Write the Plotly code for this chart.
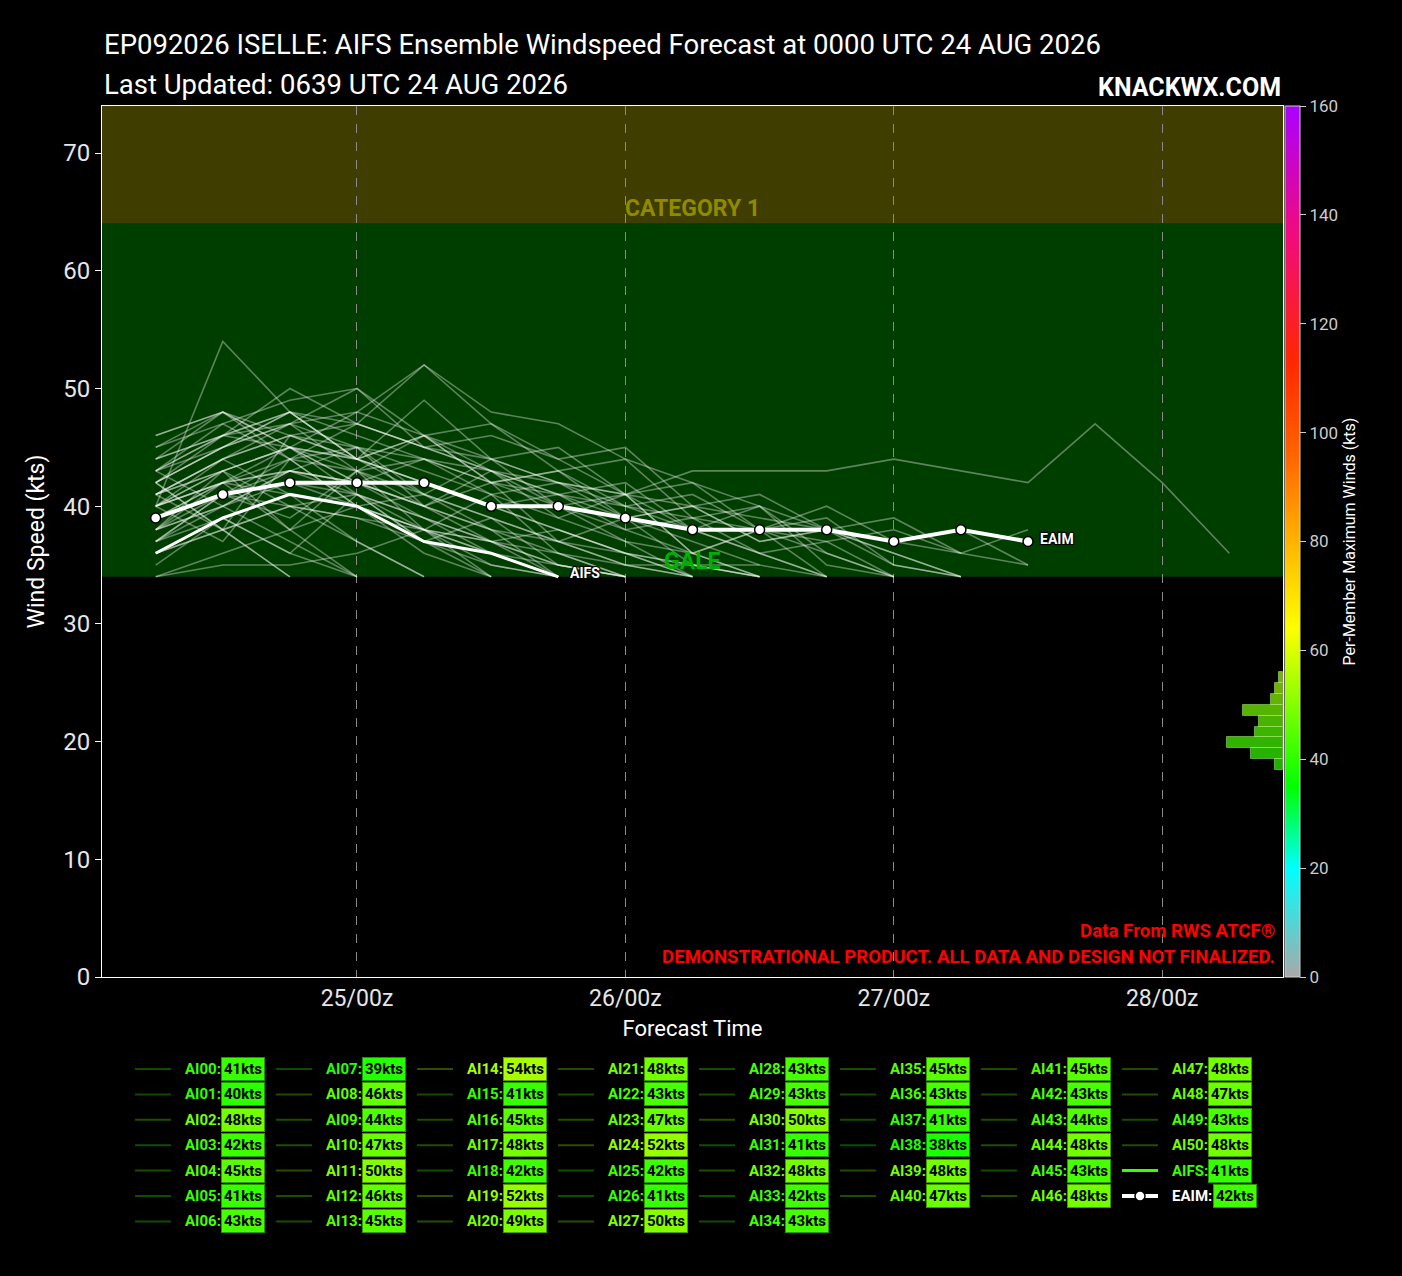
import numpy as np
import pandas as pd
import plotly.graph_objects as go

FONT = "Roboto, sans-serif"

# forecast times, 6 hourly from 24/06z
times = pd.date_range("2026-08-24 06:00", periods=17, freq="6h")

member_names = ["AI%02d" % i for i in range(51)]
member_winds = [
    [38, 41, 40, 39, 37, 36, 35, 34],
    [36, 38, 40, 39, 38, 37, 38, 36, 35, 34],
    [42, 45, 48, 46, 44, 42, 40, 38, 36, 34],
    [40, 42, 41, 40, 38, 36, 34],
    [41, 43, 45, 42, 44, 41, 42, 39, 40, 37, 38, 36, 34],
    [37, 39, 41, 40, 38, 35, 34],
    [39, 42, 38, 43, 40, 42, 37, 39, 35, 34],
    [36, 39, 36, 34],
    [44, 46, 45, 43, 44, 42, 41, 40, 39, 38, 37, 38, 36, 35],
    [40, 42, 44, 43, 41, 39, 37, 36, 34],
    [43, 45, 47, 45, 44, 43, 42, 41, 43, 43, 43, 44, 43, 42, 47, 42, 36],
    [42, 46, 50, 47, 45, 43, 41, 39, 37, 35, 34],
    [41, 44, 46, 45, 43, 41, 39, 37, 36, 34],
    [39, 42, 43, 45, 41, 44, 40, 41, 36, 38, 36, 34],
    [40, 54, 48, 44, 41, 38, 36, 34],
    [36, 38, 40, 41, 39, 37, 35, 34],
    [40, 43, 45, 44, 42, 40, 41, 38, 39, 36, 37, 34],
    [44, 46, 47, 48, 46, 44, 42, 40, 38, 36, 34],
    [38, 40, 42, 41, 39, 37, 35, 34],
    [38, 42, 45, 48, 52, 48, 47, 44, 42, 40, 38, 36, 34],
    [42, 38, 46, 44, 49, 44, 45, 41, 42, 38, 39, 35, 34],
    [43, 46, 48, 47, 45, 43, 40, 37, 34],
    [37, 41, 39, 43, 38, 41, 36, 34],
    [41, 44, 46, 47, 45, 44, 42, 41, 40, 39, 38, 37, 36, 38],
    [37, 41, 44, 47, 52, 47, 44, 41, 38, 36, 34],
    [39, 41, 42, 40, 38, 36, 34],
    [35, 39, 36, 41, 37, 39, 35, 34],
    [41, 44, 47, 50, 46, 47, 43, 44, 39, 40, 35, 34],
    [38, 40, 43, 42, 40, 38, 34],
    [40, 42, 43, 42, 40, 38, 37, 35, 34],
    [43, 47, 49, 50, 45, 46, 44, 45, 40, 41, 38, 39, 36],
    [41, 38, 34],
    [42, 45, 48, 44, 46, 43, 41, 42, 38, 40, 36, 34],
    [42, 38, 34],
    [37, 40, 43, 42, 40, 37, 34],
    [40, 37, 44, 45, 40, 43, 39, 41, 36, 38, 34],
    [39, 41, 43, 41, 38, 34],
    [34, 36, 38, 40, 41, 39, 37, 35, 34],
    [34, 35, 35, 36, 38, 37, 36, 35, 35, 35],
    [43, 46, 48, 44, 46, 42, 43, 39, 40, 37, 38, 35, 34],
    [42, 45, 47, 43, 46, 42, 43, 40, 41, 38, 40, 37, 38, 35],
    [41, 43, 45, 44, 42, 40, 38, 36, 34],
    [43, 40, 37, 34],
    [40, 44, 41, 37, 34],
    [45, 48, 46, 44, 42, 40, 38, 36, 35, 34],
    [38, 43, 40, 37, 34],
    [46, 48, 45, 42, 39, 36, 34],
    [44, 48, 45, 41, 37, 34],
    [45, 47, 44, 40, 36, 34],
    [40, 43, 38, 34],
    [46, 48, 44, 40, 37, 35, 34],
]
# per-member maximum winds shown in the legend
member_max = [41, 40, 48, 42, 45, 41, 43, 39, 46, 44, 47, 50, 46, 45, 54, 41, 45,
              48, 42, 52, 49, 48, 43, 47, 52, 42, 41, 50, 43, 43, 50, 41, 48, 42,
              43, 45, 43, 41, 38, 48, 47, 45, 43, 44, 48, 43, 48, 48, 47, 43, 48]

aifs_winds = [36, 39, 41, 40, 37, 36, 34]
aifs_max = 41
eaim_winds = [39, 41, 42, 42, 42, 40, 40, 39, 38, 38, 38, 37, 38, 37]
eaim_max = 42

hist_bins = np.arange(38, 58, 2)

# colour scale for per-member max winds (kts)
cs_stops = [(0, "#a9a9a9"), (20, "#00ffff"), (35, "#00ff00"), (64, "#ffff00"),
            (83, "#ffa500"), (96, "#ff6400"), (113, "#ff2800"), (137, "#f00a80"),
            (160, "#aa00ff")]


def hex2rgb(h):
    h = h.lstrip("#")
    return [int(h[i:i + 2], 16) for i in (0, 2, 4)]


def cmap(v, a=1.0):
    for (v0, c0), (v1, c1) in zip(cs_stops[:-1], cs_stops[1:]):
        if v0 <= v <= v1:
            f = (v - v0) / (v1 - v0)
            r0, g0, b0 = hex2rgb(c0)
            r1, g1, b1 = hex2rgb(c1)
            rgb = [round(r0 + f * (r1 - r0)), round(g0 + f * (g1 - g0)), round(b0 + f * (b1 - b0))]
            return "rgba(%d,%d,%d,%.2f)" % (rgb[0], rgb[1], rgb[2], a)
    return "rgba(170,0,255,%.2f)" % a


def darker(v):
    c = cmap(v)
    r, g, b = [int(x) for x in c[5:-1].split(",")[:3]]
    return "rgb(%d,%d,%d)" % (r * 0.6, g * 0.6, b * 0.6)


colorscale = [[v / 160, c] for v, c in cs_stops]

fig = go.Figure()

for name, w in zip(member_names, member_winds):
    fig.add_trace(go.Scatter(x=times[:len(w)], y=w, mode="lines", name=name,
                             line=dict(color="rgba(255,255,255,0.36)", width=1.6),
                             showlegend=False, hoverinfo="skip"))

fig.add_trace(go.Scatter(x=times[:len(aifs_winds)], y=aifs_winds, mode="lines", name="AIFS",
                         line=dict(color="white", width=3), showlegend=False))
fig.add_trace(go.Scatter(x=times[:len(eaim_winds)], y=eaim_winds, mode="lines+markers", name="EAIM",
                         line=dict(color="white", width=4),
                         marker=dict(size=10, color="white", line=dict(color="black", width=1.5)),
                         showlegend=False))

# colour bar
fig.add_trace(go.Scatter(
    x=[None], y=[None], mode="markers", showlegend=False, hoverinfo="skip",
    marker=dict(color=[0], cmin=0, cmax=160, colorscale=colorscale, showscale=True,
                colorbar=dict(thickness=15, len=1, lenmode="fraction", y=0.5, yanchor="middle",
                              x=1, xanchor="left", xpad=2, ypad=0,
                              outlinewidth=1, outlinecolor="#cccccc",
                              tickvals=list(range(0, 161, 20)), ticks="outside", ticklen=6,
                              tickcolor="#cccccc",
                              tickfont=dict(color="#cccccc", size=17, family=FONT),
                              title=dict(text="Per-Member Maximum Winds (kts)", side="right",
                                         font=dict(color="white", size=16, family=FONT))))))

# histogram of per-member max winds, on the colour bar scale
all_max = member_max + [aifs_max, eaim_max]
counts, edges = np.histogram(all_max, bins=hist_bins)
centers = (edges[:-1] + edges[1:]) / 2
fig.add_trace(go.Bar(x=counts, y=centers, width=2, orientation="h", xaxis="x2", yaxis="y2",
                     marker=dict(color=[cmap(c, 0.7) for c in centers],
                                 line=dict(color="rgba(190,255,140,0.45)", width=1)),
                     showlegend=False))

x_range = [times[0] - pd.Timedelta(hours=4.8), times[-1] + pd.Timedelta(hours=4.8)]
ticks_x = pd.date_range("2026-08-25", periods=4, freq="D")

# plot area in pixels
L, R, T, B = 102, 1283, 106, 977


def px(xp):
    return (xp - L) / (R - L)


def py(yp):
    return (B - yp) / (B - T)


shapes = [
    dict(type="rect", xref="paper", yref="y", x0=0, x1=1, y0=64, y1=74, fillcolor="#403d00",
         line=dict(width=0), layer="below"),
    dict(type="rect", xref="paper", yref="y", x0=0, x1=1, y0=34, y1=64, fillcolor="#003e00",
         line=dict(width=0), layer="below"),
]

annotations = [
    dict(text="EP092026 ISELLE: AIFS Ensemble Windspeed Forecast at 0000 UTC 24 AUG 2026",
         xref="paper", yref="paper", x=0, y=py(45), xanchor="left", yanchor="middle",
         showarrow=False, font=dict(color="white", size=27.5, family=FONT)),
    dict(text="Last Updated: 0639 UTC 24 AUG 2026",
         xref="paper", yref="paper", x=0, y=py(85), xanchor="left", yanchor="middle",
         showarrow=False, font=dict(color="white", size=27.5, family=FONT)),
    dict(text="KNACKWX.COM", xref="paper", yref="paper", x=1, y=py(87), xanchor="right",
         yanchor="middle", showarrow=False,
         font=dict(color="white", size=25, family=FONT, weight="bold")),
    dict(text="CATEGORY 1", xref="paper", yref="y", x=0.5, y=64, xanchor="center",
         yanchor="bottom", showarrow=False,
         font=dict(color="#8f8a00", size=23, family=FONT, weight="bold")),
    dict(text="GALE", xref="paper", yref="y", x=0.5, y=34, xanchor="center",
         yanchor="bottom", showarrow=False,
         font=dict(color="#00b000", size=23, family=FONT, weight="bold")),
    dict(text="Data From RWS ATCF®", xref="paper", yref="paper", x=px(1277), y=py(931),
         xanchor="right", yanchor="middle", showarrow=False,
         font=dict(color="red", size=18.7, family=FONT, weight="bold")),
    dict(text="DEMONSTRATIONAL PRODUCT. ALL DATA AND DESIGN NOT FINALIZED.", xref="paper",
         yref="paper", x=px(1277), y=py(957), xanchor="right", yanchor="middle",
         showarrow=False, font=dict(color="red", size=18.7, family=FONT, weight="bold")),
]

outline = "1px 1px 1px black, -1px -1px 1px black, 1px -1px 1px black, -1px 1px 1px black"
annotations.append(dict(text="AIFS", x=times[len(aifs_winds) - 1], y=aifs_winds[-1],
                        xanchor="left", yanchor="middle", xshift=10, yshift=4, showarrow=False,
                        font=dict(color="white", size=14, family=FONT, weight="bold",
                                  shadow=outline)))
annotations.append(dict(text="EAIM", x=times[len(eaim_winds) - 1], y=eaim_winds[-1],
                        xanchor="left", yanchor="middle", xshift=10, yshift=3, showarrow=False,
                        font=dict(color="white", size=14, family=FONT, weight="bold",
                                  shadow=outline)))

# legend, 8 columns filled top to bottom
legend_names = member_names + ["AIFS", "EAIM"]
legend_max = member_max + [aifs_max, eaim_max]
col_counts = [7, 7, 7, 7, 7, 6, 6, 6]
k = 0
for c, n in enumerate(col_counts):
    for r in range(n):
        name, mw = legend_names[k], legend_max[k]
        k += 1
        lab_x = 183 + 141 * c
        row_y = 1069 + 25.4 * r
        box_off = 38
        if name == "EAIM":
            shapes.append(dict(type="line", xref="paper", yref="paper", x0=px(lab_x - 48),
                               x1=px(lab_x - 12), y0=py(row_y), y1=py(row_y),
                               line=dict(color="white", width=4)))
            shapes.append(dict(type="circle", xref="paper", yref="paper", xsizemode="pixel",
                               ysizemode="pixel", xanchor=px(lab_x - 30), yanchor=py(row_y),
                               x0=-5, x1=5, y0=-5, y1=5, fillcolor="white",
                               line=dict(color="black", width=1.5)))
            lab_color = "white"
            box_off = 43
        elif name == "AIFS":
            shapes.append(dict(type="line", xref="paper", yref="paper", x0=px(lab_x - 48),
                               x1=px(lab_x - 12), y0=py(row_y), y1=py(row_y),
                               line=dict(color=cmap(mw), width=3)))
            lab_color = cmap(mw)
        else:
            shapes.append(dict(type="line", xref="paper", yref="paper", x0=px(lab_x - 48),
                               x1=px(lab_x - 12), y0=py(row_y), y1=py(row_y),
                               line=dict(color=cmap(mw, 0.3), width=2)))
            lab_color = cmap(mw)
        annotations.append(dict(text=name + ":", xref="paper", yref="paper", x=px(lab_x),
                                y=py(row_y), xanchor="left", yanchor="middle", showarrow=False,
                                font=dict(color=lab_color, size=15, family=FONT, weight="bold")))
        annotations.append(dict(text="%dkts" % mw, xref="paper", yref="paper",
                                x=px(lab_x + box_off), y=py(row_y), xanchor="left",
                                yanchor="middle", showarrow=False,
                                bgcolor=cmap(mw), bordercolor=darker(mw), borderwidth=1,
                                borderpad=2,
                                font=dict(color="black", size=15, family=FONT, weight="bold")))

fig.update_layout(
    width=1402, height=1276,
    margin=dict(l=L, r=1402 - R, t=T, b=1276 - B),
    paper_bgcolor="black", plot_bgcolor="rgba(0,0,0,0)",
    font=dict(family=FONT, color="white"),
    shapes=shapes, annotations=annotations, bargap=0,
    xaxis=dict(type="date", range=x_range, tickvals=ticks_x, tickformat="%d/%Hz",
               showgrid=True, gridcolor="#8a8a8a", griddash="dash", gridwidth=1,
               showline=True, linecolor="white", linewidth=1, mirror=True, ticks="",
               zeroline=False, tickfont=dict(size=23, color="#e6e6e6"),
               title=dict(text="Forecast Time", font=dict(size=22, color="white"), standoff=10)),
    yaxis=dict(range=[0, 74], dtick=10, showgrid=False, zeroline=False,
               showline=True, linecolor="white", linewidth=1, mirror=True,
               ticks="outside", ticklen=6, tickcolor="white",
               tickfont=dict(size=24, color="#e6e6e6"),
               title=dict(text="Wind Speed (kts)", font=dict(size=23, color="white"), standoff=12)),
    xaxis2=dict(overlaying="x", range=[(R - L) / 4, 0], visible=False),
    yaxis2=dict(overlaying="y", range=[0, 160], visible=False),
)

fig.write_html("out.html", config={"displayModeBar": False},
               post_script="document.body.style.margin='0';")
